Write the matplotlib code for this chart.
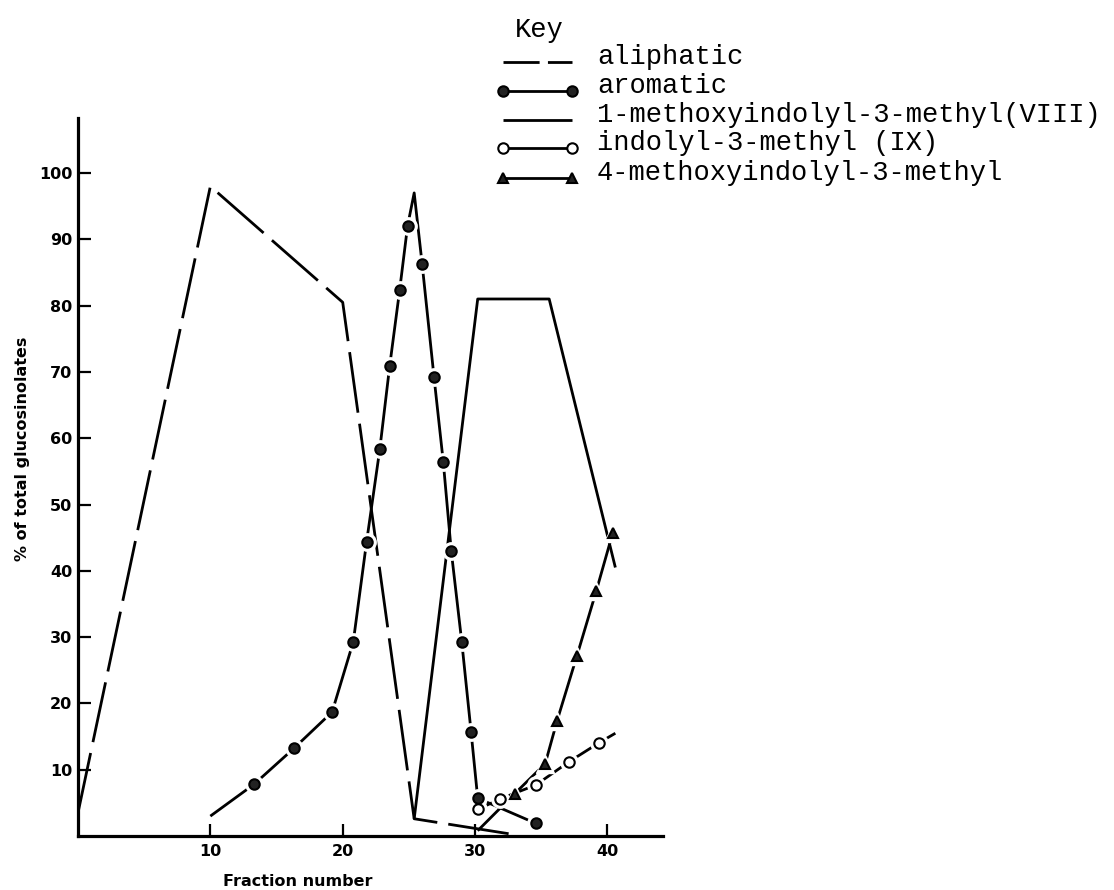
import matplotlib
matplotlib.use("Agg")
import matplotlib.pyplot as plt
from matplotlib.lines import Line2D

# glucosinolate composition of each fraction (% of total)
aliphatic_x = [0, 10, 20, 25.4, 33.0]
aliphatic_y = [3.5, 98, 80.5, 2.6, 0.2]

aromatic_x = [10, 13.3, 16.3, 19.2, 20.8, 21.8, 22.8, 23.55, 24.3, 24.9, 25.4,
              26.0, 26.9, 27.6, 28.2, 29.0, 29.7, 30.2, 34.6]
aromatic_y = [3, 7.8, 13.2, 18.7, 29.3, 44.3, 58.3, 70.9, 82.3, 92, 97,
              86.3, 69.2, 56.4, 43, 29.2, 15.7, 5.7, 1.9]
aromatic_marked = [1, 2, 3, 4, 5, 6, 7, 8, 9, 11, 12, 13, 14, 15, 16, 17, 18]

methoxy1_x = [25.4, 30.2, 35.6, 40.6]
methoxy1_y = [2.6, 81, 81, 40.5]

indolyl_x = [30.2, 31.9, 34.6, 37.1, 39.4, 40.6]
indolyl_y = [4.0, 5.6, 7.7, 11.2, 14.1, 15.5]
indolyl_marked = [0, 1, 2, 3, 4]

methoxy4_x = [30.2, 33.0, 35.3, 36.2, 37.7, 39.15, 40.4]
methoxy4_y = [0.8, 6.4, 10.9, 17.4, 27.2, 36.9, 45.7]
methoxy4_marked = [1, 2, 3, 4, 5, 6]

x_ticks = [10, 20, 30, 40]
y_ticks = [10, 20, 30, 40, 50, 60, 70, 80, 90, 100]

key_labels = ["aliphatic", "aromatic", "1-methoxyindolyl-3-methyl(VIII)",
              "indolyl-3-methyl (IX)", "4-methoxyindolyl-3-methyl"]

LW = 2.0
MS = 7.5
W, H = 1114, 890

fig = plt.figure(figsize=(W / 100, H / 100), dpi=100)
ax = fig.add_axes([78 / W, 54 / H, 585 / W, 718 / H])


def series(x, y, marked=None, marker=None, face="k", dashes=None):
    line, = ax.plot(x, y, color="k", lw=LW, zorder=2, solid_capstyle="butt")
    if dashes:
        line.set_dashes(dashes)
    if marked is None:
        return
    # white halo so the line breaks around each symbol
    ax.plot(x, y, ls="none", marker=marker, markevery=marked, ms=MS + 5,
            mfc="white", mec="white", zorder=3)
    ax.plot(x, y, ls="none", marker=marker, markevery=marked, ms=MS,
            mfc=face, mec="k", mew=1.5, zorder=4)


series(aliphatic_x, aliphatic_y, dashes=(22, 4))
series(methoxy1_x, methoxy1_y)
series(aromatic_x, aromatic_y, aromatic_marked, "o", "#222222")
series(indolyl_x, indolyl_y, indolyl_marked, "o", "white")
series(methoxy4_x, methoxy4_y, methoxy4_marked, "^", "#222222")

ax.set_xlim(0, 44.2)
ax.set_ylim(0, 108.3)
for side in ("top", "right"):
    ax.spines[side].set_visible(False)
for side in ("left", "bottom"):
    ax.spines[side].set_linewidth(2.3)

ax.set_xticks(x_ticks)
ax.set_yticks(y_ticks)
ax.tick_params(direction="in", length=9, width=1.6, labelsize=11.5, pad=6)
ax.tick_params(axis="y", pad=4)
for lab in ax.get_xticklabels() + ax.get_yticklabels():
    lab.set_fontweight("bold")

fig.text(298 / W, 1 - 881 / H, "Fraction number", ha="center", va="center",
         fontsize=11.5, fontweight="bold")
fig.text(23 / W, 1 - 449 / H, "% of total glucosinolates", rotation=90,
         ha="center", va="center", fontsize=11.5, fontweight="bold")

# key in the top-right corner
mono = {"family": "Liberation Mono", "size": 19.5}
fig.text(515 / W, 1 - 30 / H, "Key", ha="left", va="center", **mono)
row_y = [62, 91, 120, 148, 178]
x0, x1 = 503 / W, 572 / W
styles = [
    dict(marker=None, dashes=(13, 3)),
    dict(marker="o", mfc="#222222"),
    dict(marker=None),
    dict(marker="o", mfc="white"),
    dict(marker="^", mfc="#222222"),
]
for y, st, label in zip(row_y, styles, key_labels):
    yf = 1 - y / H
    ln = Line2D([x0, x1], [yf, yf], transform=fig.transFigure, color="k",
                lw=LW, solid_capstyle="butt")
    if st.get("dashes"):
        ln.set_dashes(st["dashes"])
    if st.get("marker"):
        ln.set_marker(st["marker"])
        ln.set_markersize(MS)
        ln.set_markerfacecolor(st["mfc"])
        ln.set_markeredgecolor("k")
        ln.set_markeredgewidth(1.5)
    fig.add_artist(ln)
    fig.text(597 / W, yf - 2 / H, label, ha="left", va="baseline", **mono)

fig.savefig("out.png", dpi=100)
